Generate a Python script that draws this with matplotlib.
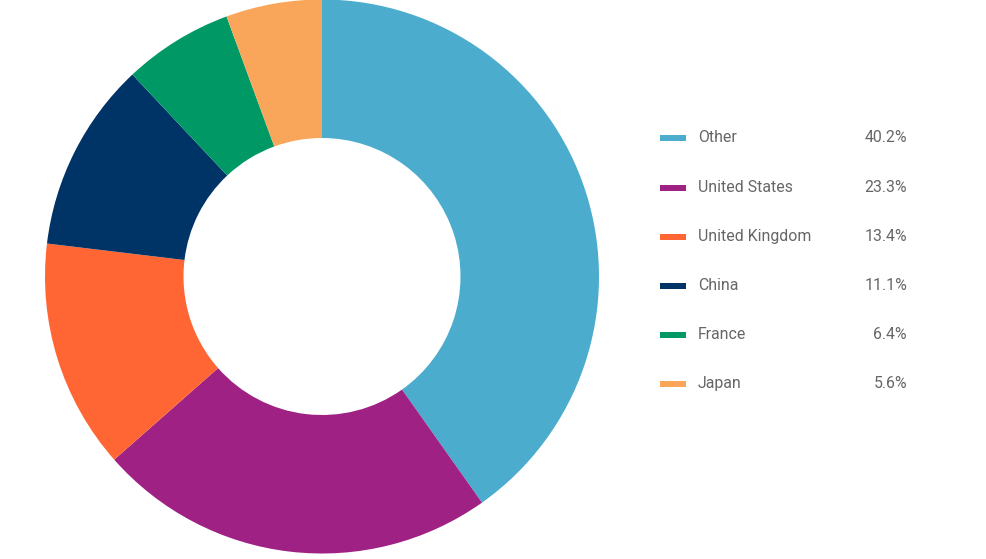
import matplotlib
matplotlib.use("Agg")
import matplotlib.pyplot as plt
from matplotlib.patches import Rectangle

labels = ["Other", "United States", "United Kingdom", "China", "France", "Japan"]
values = [40.2, 23.3, 13.4, 11.1, 6.4, 5.6]
colors = ["#4BACCD", "#9E2183", "#FF6633", "#003366", "#009966", "#F9A65A"]

W, H = 986, 559
fig = plt.figure(figsize=(W / 100, H / 100), dpi=100)
plt.rcParams['font.family'] = ['Roboto', 'DejaVu Sans']

cx, cy, r = 322, 276.5, 277
ax = fig.add_axes([(cx - r) / W, (H - cy - r) / H, 2 * r / W, 2 * r / H])
ax.pie(values, colors=colors, startangle=90, counterclock=False,
       radius=1.0, wedgeprops=dict(width=0.5, linewidth=0))
ax.set_xlim(-1, 1)
ax.set_ylim(-1, 1)
ax.set_aspect('equal')
ax.axis('off')

row_y = [137.5, 187.5, 236.5, 285.5, 334.5, 383.5]
for lab, val, col, y in zip(labels, values, colors, row_y):
    fig.patches.append(Rectangle((660 / W, (H - y - 3) / H), 26 / W, 5.5 / H,
                                 transform=fig.transFigure, color=col, lw=0))
    fig.text(698 / W, (H - y) / H, lab, fontsize=11.4, color="#666666",
             ha='left', va='center')
    fig.text(907 / W, (H - y) / H, f"{val:.1f}%", fontsize=11.4, color="#666666",
             ha='right', va='center')

fig.savefig("out.png", dpi=100)
